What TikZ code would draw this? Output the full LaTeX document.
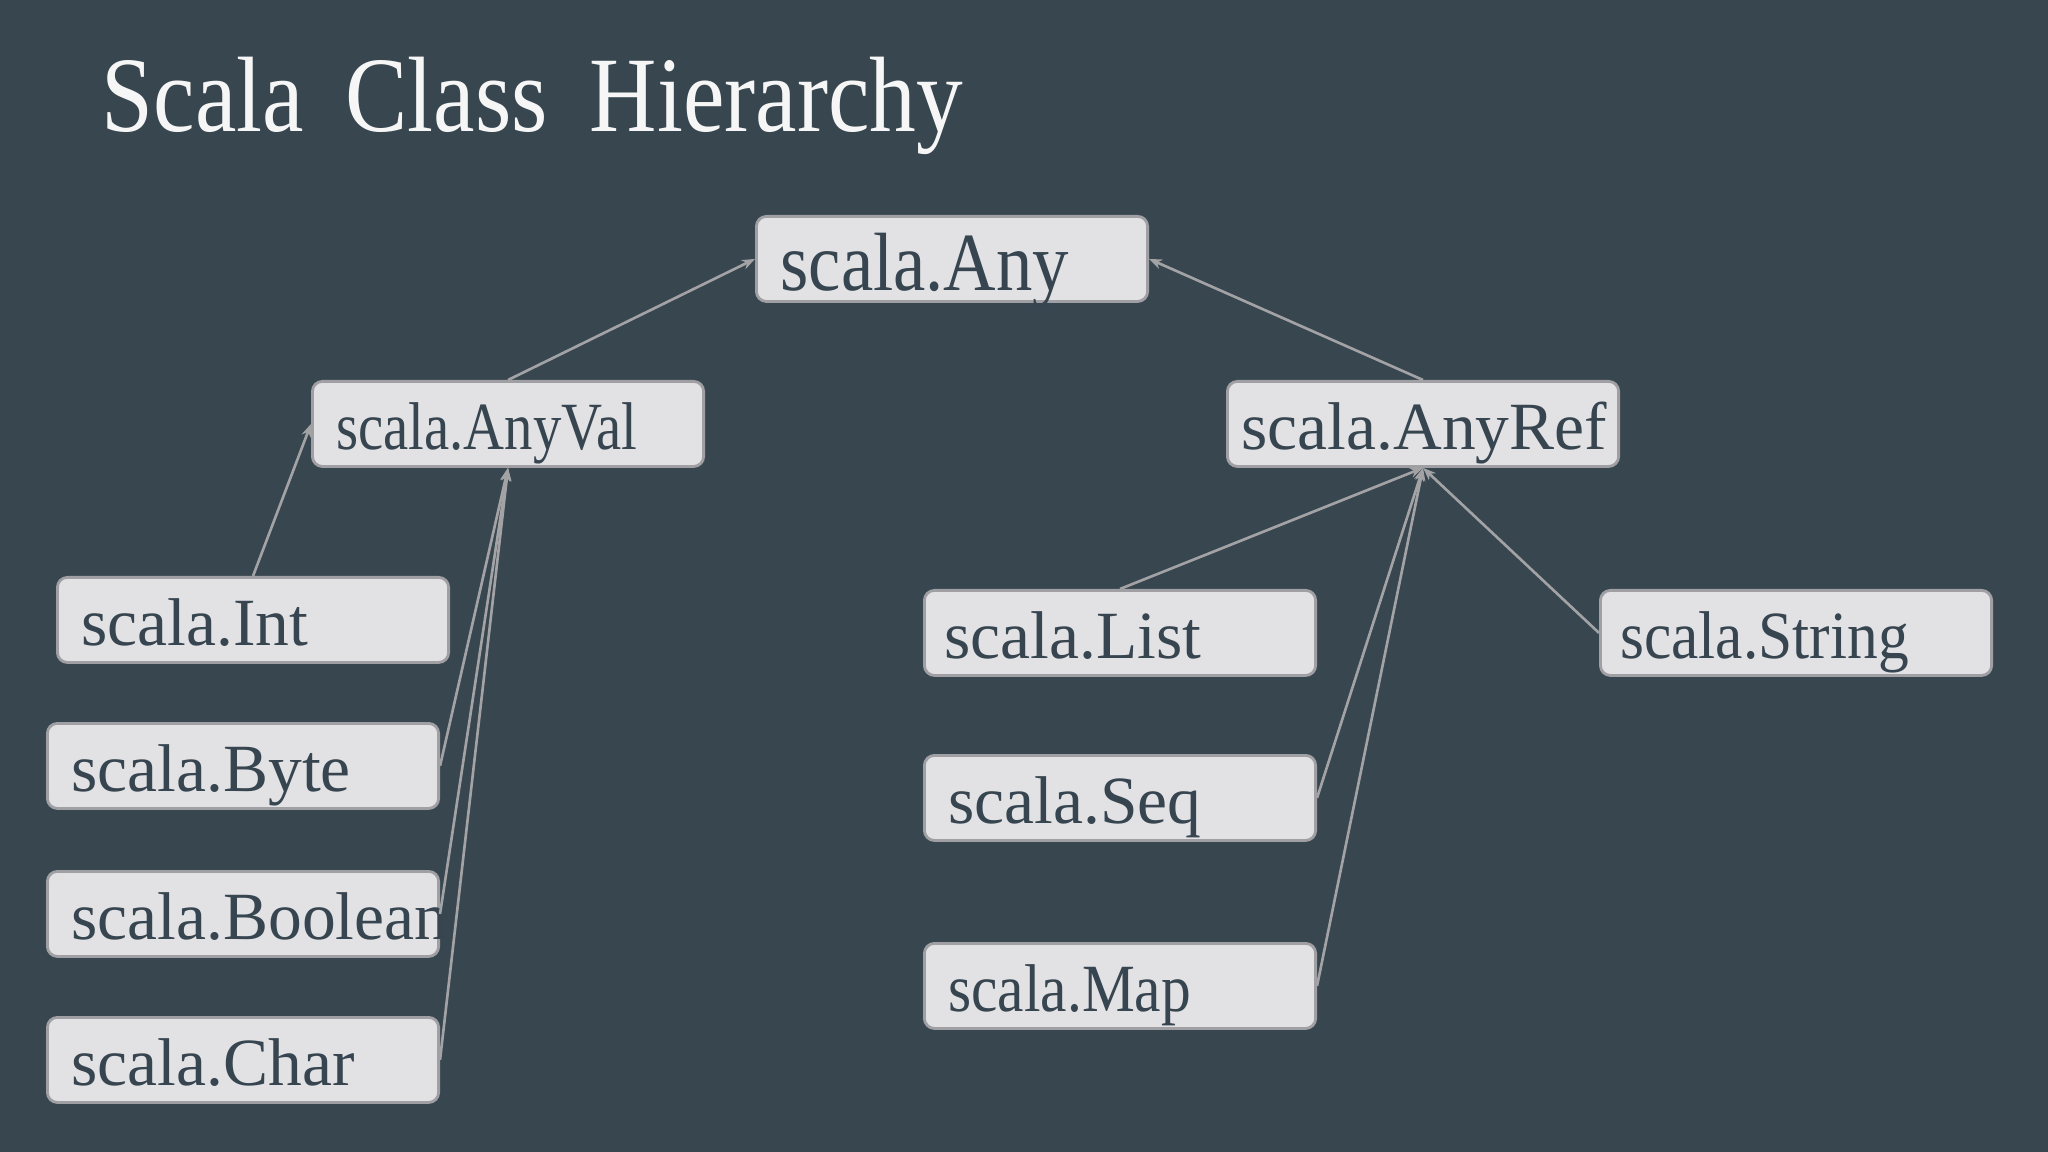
\documentclass[tikz,border=0pt]{standalone}
\usepackage{fontspec}
\setmainfont{Liberation Serif}
\usepackage{graphicx}
\usetikzlibrary{arrows.meta}
\definecolor{slate}{HTML}{37464F}
\definecolor{boxfill}{HTML}{E2E1E4}
\definecolor{boxline}{HTML}{A0A0A4}
\definecolor{inkdark}{HTML}{36454F}
\definecolor{linkgray}{HTML}{A3A3A6}
\definecolor{titlewhite}{HTML}{F6F6F6}
\newcommand{\squeeze}[2]{\scalebox{#1}[1]{#2}}

\begin{document}
\begin{tikzpicture}[x=0.01cm, y=-0.01cm,
  cls/.style={draw=boxline, line width=0.8pt, fill=boxfill, rounded corners=0.1cm, anchor=north west, minimum width=3.91cm, minimum height=0.85cm, text width=3.43cm, inner xsep=0.24cm, inner ysep=0pt, text height=0.52cm, text depth=0pt, align=left, text=inkdark, font=\fontsize{19.2}{23}\selectfont},
  isa/.style={-{Stealth[length=0.13cm, width=0.1cm]}, linkgray, line width=0.75pt}]
  \fill[slate] (0,0) rectangle (2048,1152);
  \node[anchor=base west, inner sep=0pt, text=titlewhite, font=\fontsize{30.5}{36}\selectfont] (title) at (101,132) {\squeeze{0.87}{Scala\hspace{0.45em}Class\hspace{0.45em}Hierarchy}};
  % top and second level
  \node[cls, text height=0.64cm, font=\fontsize{23.5}{28}\selectfont] (any) at (755,215) {\squeeze{0.88}{scala.Any}};
  \node[cls] (anyval) at (311,380) {\squeeze{0.84}{scala.AnyVal}};
  \node[cls, inner xsep=0.14cm, text width=3.63cm] (anyref) at (1226,380) {scala.AnyRef};
  % value classes
  \node[cls] (int) at (56,576) {scala.Int};
  \node[cls] (byte) at (46,722) {scala.Byte};
  \node[cls] (boolean) at (46,870) {\mbox{scala.Boolean}};
  \node[cls] (char) at (46,1016) {scala.Char};
  % reference classes
  \node[cls, inner xsep=0.2cm, text width=3.51cm] (list) at (923,589) {scala.List};
  \node[cls] (seq) at (923,754) {scala.Seq};
  \node[cls] (map) at (923,942) {\squeeze{0.88}{scala.Map}};
  \node[cls, inner xsep=0.2cm, text width=3.51cm] (string) at (1599,589) {\squeeze{0.91}{scala.String}};
  \draw[isa] (anyval.north) -- (any.west);
  \draw[isa] (anyref.north) -- (any.east);
  \draw[isa] (int.north) -- (anyval.west);
  \foreach \c in {byte, boolean, char}
  \draw[isa] (\c.east) -- (anyval.south);
  \draw[isa] (list.north) -- (anyref.south);
  \foreach \c in {seq, map}
  \draw[isa] (\c.east) -- (anyref.south);
  \draw[isa] (string.west) -- (anyref.south);
\end{tikzpicture}
\end{document}
